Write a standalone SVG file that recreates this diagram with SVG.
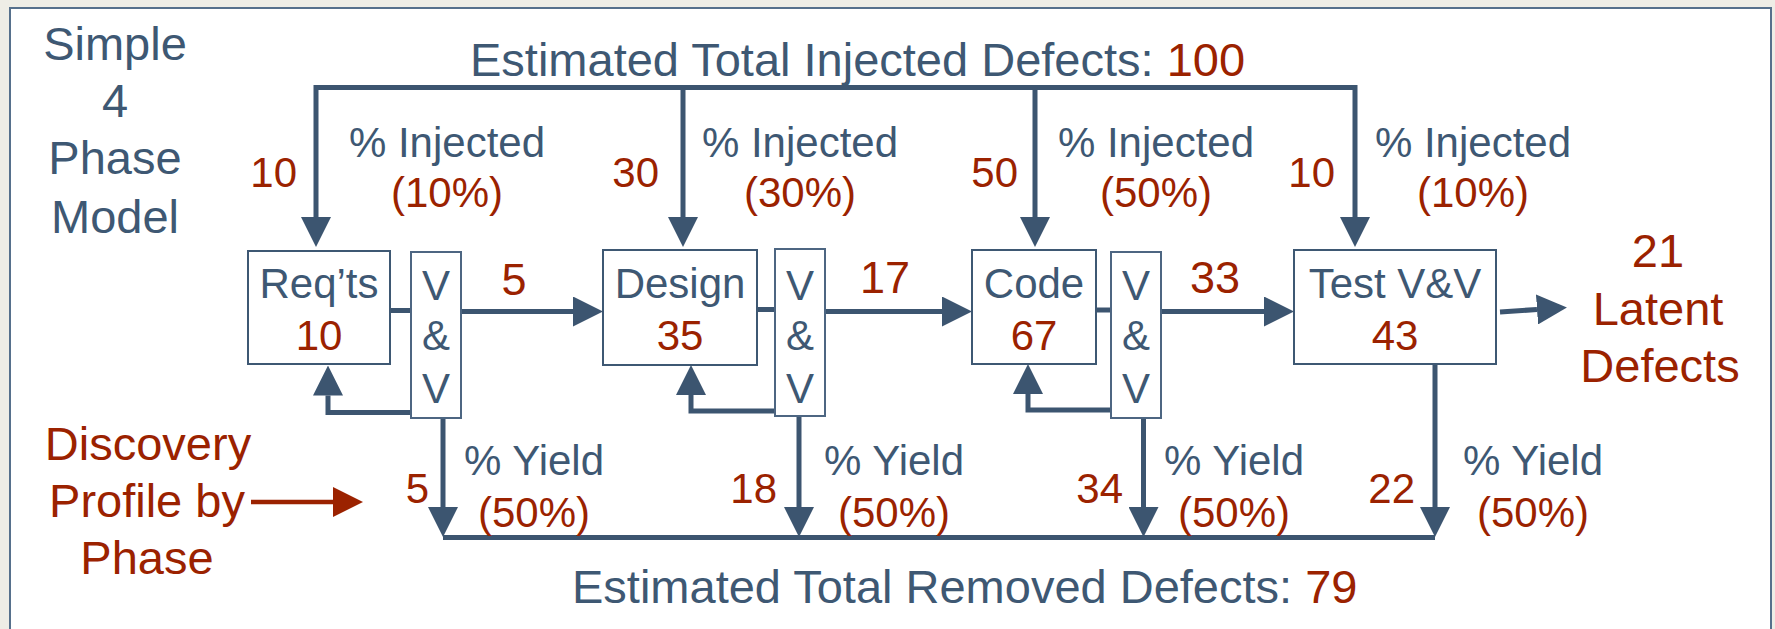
<svg xmlns="http://www.w3.org/2000/svg" width="1775" height="629" viewBox="0 0 1775 629">
  <defs>
    <marker id="head" markerUnits="userSpaceOnUse" markerWidth="30" markerHeight="30" viewBox="0 0 30 30" refX="0" refY="15" orient="auto-start-reverse">
      <path d="M0,0 L30,15 L0,30 z" fill="#3C5570"/>
    </marker>
    <marker id="headRed" markerUnits="userSpaceOnUse" markerWidth="30" markerHeight="30" viewBox="0 0 30 30" refX="0" refY="15" orient="auto">
      <path d="M0,0 L30,15 L0,30 z" fill="#9B2200"/>
    </marker>
  </defs>
  <style>
    text { font-family: "Liberation Sans", Arial, sans-serif; }
    .b { fill: #3E5873; }
    .r { fill: #9B2200; }
    .big { font-size: 47px; }
    .lbl { font-size: 42px; }
    .num { font-size: 45px; }
    .mid { text-anchor: middle; }
    .end { text-anchor: end; }
    .box { fill: #ffffff; stroke: #3E5873; stroke-width: 2; }
    .vbox { fill: #ffffff; stroke: #4D6682; stroke-width: 2; }
    .wire { fill: none; stroke: #3C5570; stroke-width: 5; stroke-linejoin: miter; }
  </style>

  <!-- page background and panel -->
  <rect x="0" y="0" width="1775" height="629" fill="#EEEDE6"/>
  <rect x="10" y="8" width="1761" height="640" fill="#ffffff" stroke="#56708C" stroke-width="2"/>

  <!-- headings -->
  <g id="model-title" class="b big mid">
    <text x="115" y="60">Simple</text>
    <text x="115" y="117">4</text>
    <text x="115" y="174">Phase</text>
    <text x="115" y="233">Model</text>
  </g>
  <text id="injected-total" x="470" y="76" class="b big">Estimated Total Injected Defects: <tspan class="r">100</tspan></text>
  <text id="removed-total" x="572" y="603" class="b big">Estimated Total Removed Defects: <tspan class="r">79</tspan></text>

  <!-- connectors -->
  <g id="connectors">
    <path class="wire" d="M316,217 V87.5 H1355 V217" marker-start="url(#head)" marker-end="url(#head)"/>
    <path class="wire" d="M683,87.5 V217" marker-end="url(#head)"/>
    <path class="wire" d="M1035,87.5 V217" marker-end="url(#head)"/>

    <path class="wire" d="M390,310.5 H411"/>
    <path class="wire" d="M757,309.5 H775"/>
    <path class="wire" d="M1096,310 H1111"/>

    <path class="wire" d="M461,311.5 H573" marker-end="url(#head)"/>
    <path class="wire" d="M825,311.5 H942" marker-end="url(#head)"/>
    <path class="wire" d="M1161,311.5 H1264" marker-end="url(#head)"/>
    <path class="wire" d="M1500,312 L1537,309.5" marker-end="url(#head)"/>

    <path class="wire" d="M411,412.5 H328 V395.5" marker-end="url(#head)"/>
    <path class="wire" d="M775,411 H691 V395" marker-end="url(#head)"/>
    <path class="wire" d="M1111,410 H1028 V394" marker-end="url(#head)"/>

    <path class="wire" d="M443,418 V507" marker-end="url(#head)"/>
    <path class="wire" d="M799,416 V507" marker-end="url(#head)"/>
    <path class="wire" d="M1143.5,418 V507" marker-end="url(#head)"/>
    <path class="wire" d="M1435,364 V507" marker-end="url(#head)"/>
    <path class="wire" d="M443,537.5 H1435"/>

    <path d="M251,502 H333" fill="none" stroke="#9B2200" stroke-width="4.5" marker-end="url(#headRed)"/>
  </g>

  <!-- phase: requirements -->
  <g id="reqts">
    <rect class="box" x="248" y="251" width="142" height="113"/>
    <text x="319" y="298" class="b lbl mid">Req’ts</text>
    <text x="319" y="350" class="r lbl mid">10</text>
  </g>
  <g id="reqts-vv">
    <rect class="vbox" x="411" y="252" width="50" height="166"/>
    <text x="436" y="300" class="b lbl mid">V</text>
    <text x="436" y="350" class="b lbl mid">&amp;</text>
    <text x="436" y="403" class="b lbl mid">V</text>
  </g>

  <!-- phase: design -->
  <g id="design">
    <rect class="box" x="603" y="250" width="154" height="115"/>
    <text x="680" y="298" class="b lbl mid">Design</text>
    <text x="680" y="350" class="r lbl mid">35</text>
  </g>
  <g id="design-vv">
    <rect class="vbox" x="775" y="249" width="50" height="167"/>
    <text x="800" y="300" class="b lbl mid">V</text>
    <text x="800" y="350" class="b lbl mid">&amp;</text>
    <text x="800" y="403" class="b lbl mid">V</text>
  </g>

  <!-- phase: code -->
  <g id="code">
    <rect class="box" x="972" y="250" width="124" height="114"/>
    <text x="1034" y="298" class="b lbl mid">Code</text>
    <text x="1034" y="350" class="r lbl mid">67</text>
  </g>
  <g id="code-vv">
    <rect class="vbox" x="1111" y="252" width="50" height="166"/>
    <text x="1136" y="300" class="b lbl mid">V</text>
    <text x="1136" y="350" class="b lbl mid">&amp;</text>
    <text x="1136" y="403" class="b lbl mid">V</text>
  </g>

  <!-- phase: test -->
  <g id="test">
    <rect class="box" x="1294" y="250" width="202" height="114"/>
    <text x="1395" y="298" class="b lbl mid">Test V&amp;V</text>
    <text x="1395" y="350" class="r lbl mid">43</text>
  </g>

  <!-- latent defects -->
  <g id="latent" class="r big mid">
    <text x="1658" y="267">21</text>
    <text x="1658" y="325">Latent</text>
    <text x="1660" y="382">Defects</text>
  </g>

  <!-- discovery profile note -->
  <g id="discovery" class="r big mid">
    <text x="148" y="460">Discovery</text>
    <text x="147" y="517">Profile by</text>
    <text x="147" y="574">Phase</text>
  </g>

  <!-- injection labels -->
  <g id="injection-labels" class="lbl">
    <text x="297" y="187" class="r end">10</text>
    <text x="447" y="157" class="b mid">% Injected</text>
    <text x="447" y="207" class="r mid">(10%)</text>

    <text x="659" y="187" class="r end">30</text>
    <text x="800" y="157" class="b mid">% Injected</text>
    <text x="800" y="207" class="r mid">(30%)</text>

    <text x="1018" y="187" class="r end">50</text>
    <text x="1156" y="157" class="b mid">% Injected</text>
    <text x="1156" y="207" class="r mid">(50%)</text>

    <text x="1335" y="187" class="r end">10</text>
    <text x="1473" y="157" class="b mid">% Injected</text>
    <text x="1473" y="207" class="r mid">(10%)</text>
  </g>

  <!-- flow counts between phases -->
  <g id="flow-labels" class="r num mid">
    <text x="514" y="295">5</text>
    <text x="885" y="293">17</text>
    <text x="1215" y="293">33</text>
  </g>

  <!-- yield labels -->
  <g id="yield-labels" class="lbl">
    <text x="429" y="503" class="r end">5</text>
    <text x="534" y="475" class="b mid">% Yield</text>
    <text x="534" y="527" class="r mid">(50%)</text>

    <text x="777" y="503" class="r end">18</text>
    <text x="894" y="475" class="b mid">% Yield</text>
    <text x="894" y="527" class="r mid">(50%)</text>

    <text x="1123" y="503" class="r end">34</text>
    <text x="1234" y="475" class="b mid">% Yield</text>
    <text x="1234" y="527" class="r mid">(50%)</text>

    <text x="1415" y="503" class="r end">22</text>
    <text x="1533" y="475" class="b mid">% Yield</text>
    <text x="1533" y="527" class="r mid">(50%)</text>
  </g>
</svg>
